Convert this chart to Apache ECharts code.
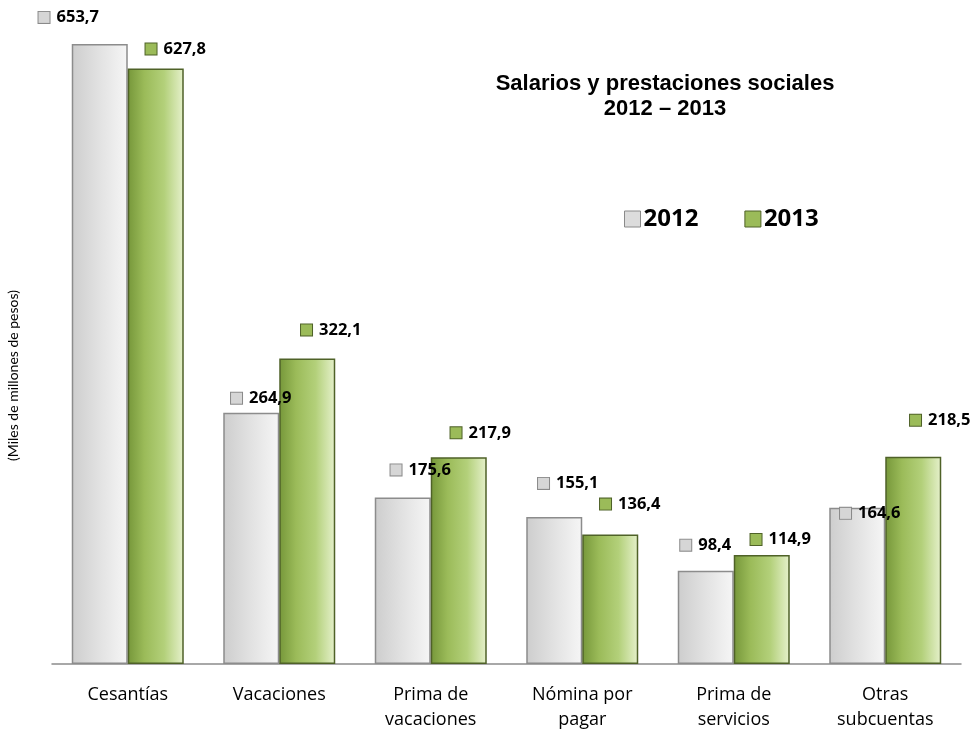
<!DOCTYPE html>
<html>
<head>
    <meta charset="utf-8">
    <script src="https://cdn.jsdelivr.net/npm/echarts@6/dist/echarts.min.js"></script>
    <style>
        body { margin: 0; background: #fff; }
    </style>
</head>

<body>
    <div id="main" style="width:976px; height:735px;"></div>
</body>

<script type="text/javascript">

    // data
    const categories = ['Cesantías', 'Vacaciones', 'Prima de\nvacaciones', 'Nómina por\npagar', 'Prima de\nservicios', 'Otras\nsubcuentas'];
    const values2012 = [653.7, 264.9, 175.6, 155.1, 98.4, 164.6];
    const values2013 = [627.8, 322.1, 217.9, 136.4, 114.9, 218.5];

    // where each value label sits relative to its bar top (label layout only)
    const shift2012 = [[-31, -18], [10, -6], [18, -19], [14, -25], [0, -17], [13, 14]];
    const shift2013 = [[20, -11], [24, -20], [22, -16], [20, -22], [19, -7], [27, -28]];

    const myChart = echarts.init(document.getElementById('main'));

    const greyFill = new echarts.graphic.LinearGradient(0, 0, 1, 0, [
        { offset: 0, color: '#cdcdcd' },
        { offset: 0.45, color: '#e0e0e0' },
        { offset: 1, color: '#f6f6f6' }
    ]);
    const greenFill = new echarts.graphic.LinearGradient(0, 0, 1, 0, [
        { offset: 0, color: '#76973a' },
        { offset: 0.3, color: '#9bbb59' },
        { offset: 0.65, color: '#b3d07a' },
        { offset: 1, color: '#e6f1cc' }
    ]);

    function labelFor(icon) {
        return {
            show: true,
            position: 'top',
            distance: 0,
            formatter: function (p) {
                return '{' + icon + '|}{v|' + p.value.toFixed(1).replace('.', ',') + '}';
            },
            rich: {
                g: { width: 11, height: 11, backgroundColor: '#d6d6d6', borderColor: '#8a8a8a', borderWidth: 1 },
                v: { fontFamily: 'Open Sans', fontWeight: 'bold', fontSize: 16.5, color: '#000', padding: [0, 0, 0, 7] },
                n: { width: 11, height: 11, backgroundColor: '#9bbb59', borderColor: '#4f6228', borderWidth: 1 }
            }
        };
    }

    function withShift(values, shifts) {
        return values.map(function (v, i) {
            return { value: v, label: { offset: shifts[i] } };
        });
    }

    const option = {
        animation: false,
        title: {
            text: 'Salarios y prestaciones sociales\n2012 – 2013',
            left: 660,
            top: 66,
            textAlign: 'center',
            textStyle: {
                fontFamily: 'Liberation Sans',
                fontWeight: 'bold',
                fontSize: 22,
                lineHeight: 25,
                color: '#000'
            }
        },
        legend: {
            left: 619,
            top: 202,
            itemWidth: 16,
            itemHeight: 16,
            itemGap: 46,
            icon: 'rect',
            textStyle: { fontFamily: 'Open Sans', fontWeight: 'bold', fontSize: 24, color: '#000', padding: [0, 0, 0, -2] },
            data: [
                { name: '2012', itemStyle: { color: '#dcdcdc', borderColor: '#8a8a8a', borderWidth: 1 } },
                { name: '2013', itemStyle: { color: '#9bbb59', borderColor: '#4f6228', borderWidth: 1 } }
            ]
        },
        graphic: [{
            type: 'text',
            left: 6,
            top: 290,
            rotation: Math.PI / 2,
            style: {
                text: '(Miles de millones de pesos)',
                fontFamily: 'Lato',
                fontSize: 14,
                fill: '#000'
            }
        }],
        grid: {
            left: 52,
            right: 15,
            top: 0,
            bottom: 71,
            containLabel: false,
            outerBoundsMode: 'none'
        },
        xAxis: {
            type: 'category',
            data: categories,
            axisTick: { show: false },
            axisLine: { lineStyle: { color: '#8c8c8c', width: 1.5 } },
            axisLabel: {
                margin: 18,
                fontFamily: 'Open Sans',
                fontSize: 18,
                lineHeight: 25,
                color: '#000',
                interval: 0
            }
        },
        yAxis: {
            type: 'value',
            min: 0,
            max: 700,
            axisLine: { show: false },
            axisTick: { show: false },
            axisLabel: { show: false },
            splitLine: { show: false }
        },
        series: [
            {
                name: '2012',
                type: 'bar',
                barWidth: 56,
                barGap: '0%',
                data: withShift(values2012, shift2012),
                itemStyle: { color: greyFill, borderColor: '#8c8c8c', borderWidth: 1.5 },
                label: labelFor('g')
            },
            {
                name: '2013',
                type: 'bar',
                barWidth: 56,
                data: withShift(values2013, shift2013),
                itemStyle: { color: greenFill, borderColor: '#4f6228', borderWidth: 1.5 },
                label: labelFor('n')
            }
        ]
    };
    option && myChart.setOption(option);
</script>
</html>
